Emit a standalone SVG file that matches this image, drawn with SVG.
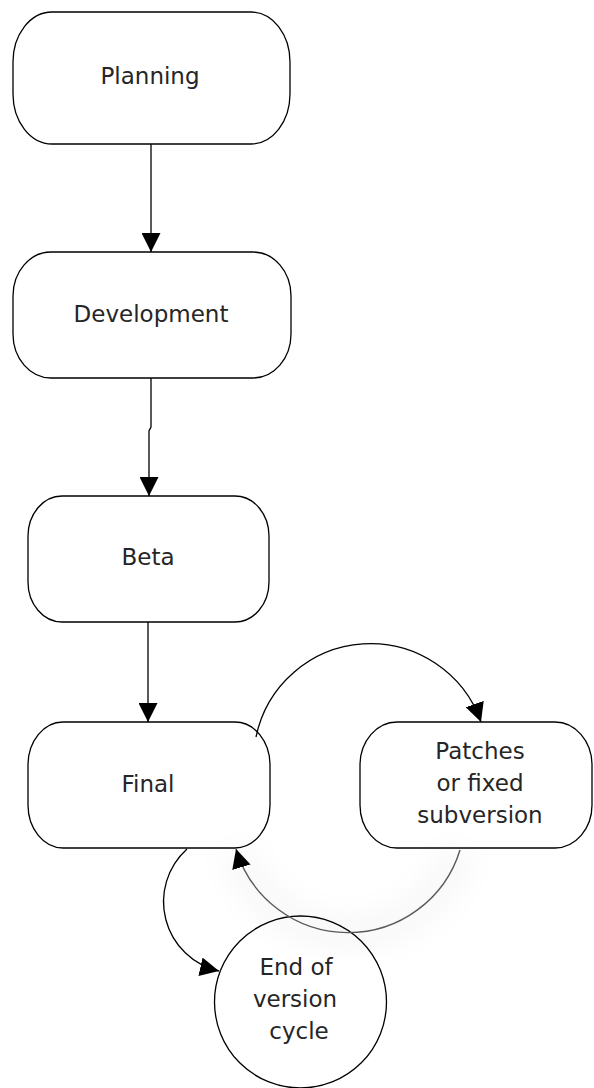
<svg xmlns="http://www.w3.org/2000/svg" width="594" height="1088" viewBox="0 0 594 1088">
  <style>
    .node { fill: #ffffff; stroke: #000000; stroke-width: 1.3; }
    .label { font-family: "DejaVu Sans", "Liberation Sans", sans-serif; font-size: 23px; fill: #262626; text-anchor: middle; }
    .edge { fill: none; stroke: #000000; stroke-width: 1.3; }
    .edge-faded { fill: none; stroke: #5a5a5a; stroke-width: 1.4; }
  </style>
  <defs>
    <marker id="arrow" viewBox="0 0 20 20" refX="20" refY="10" markerWidth="19" markerHeight="19" markerUnits="userSpaceOnUse" orient="auto">
      <path d="M0,0 L20,10 L0,20 Z" fill="#000000"/>
    </marker>
    <filter id="halo" x="-30%" y="-30%" width="160%" height="160%">
      <feGaussianBlur stdDeviation="12"/>
    </filter>
  </defs>
  <rect width="594" height="1088" fill="#ffffff"/>

  <g id="nodes">
    <g id="planning">
      <rect class="node" x="13" y="12" width="277" height="132" rx="39" ry="50"/>
      <text class="label" x="150" y="84">Planning</text>
    </g>
    <g id="development">
      <rect class="node" x="13" y="252" width="278" height="126" rx="38" ry="44"/>
      <text class="label" x="151" y="322">Development</text>
    </g>
    <g id="beta">
      <rect class="node" x="28" y="496" width="241" height="126" rx="34" ry="40"/>
      <text class="label" x="148" y="565">Beta</text>
    </g>
    <g id="final">
      <rect class="node" x="28" y="722" width="242" height="126" rx="35" ry="43"/>
      <text class="label" x="148" y="792">Final</text>
    </g>
    <g id="patches">
      <rect class="node" x="360" y="722" width="232" height="126" rx="37" ry="43"/>
      <text class="label" x="480" y="759">Patches</text>
      <text class="label" x="480" y="791">or fixed</text>
      <text class="label" x="480" y="823">subversion</text>
    </g>
    <g id="end">
      <circle class="node" cx="300.5" cy="1002" r="86"/>
      <text class="label" x="296" y="975">End of</text>
      <text class="label" x="295" y="1007">version</text>
      <text class="label" x="299" y="1039">cycle</text>
    </g>
  </g>

  <g id="connectors">
    <path class="edge" d="M151,144 L151,252" marker-end="url(#arrow)"/>
    <path class="edge" d="M151,378 L151,427 L149,431 L149,496" marker-end="url(#arrow)"/>
    <path class="edge" d="M148,622 L148,722" marker-end="url(#arrow)"/>
    <path class="edge" d="M256,737 A117,117 0 0 1 481,722" marker-end="url(#arrow)"/>
    <path d="M460,850 A117,117 0 0 1 236,849" fill="none" stroke="#000000" stroke-opacity="0.025" stroke-width="40" filter="url(#halo)"/>
    <path class="edge-faded" d="M460,850 A117,117 0 0 1 236,849" marker-end="url(#arrow)"/>
    <path class="edge" d="M187,849 A71,71 0 0 0 219,971" marker-end="url(#arrow)"/>
  </g>
</svg>
